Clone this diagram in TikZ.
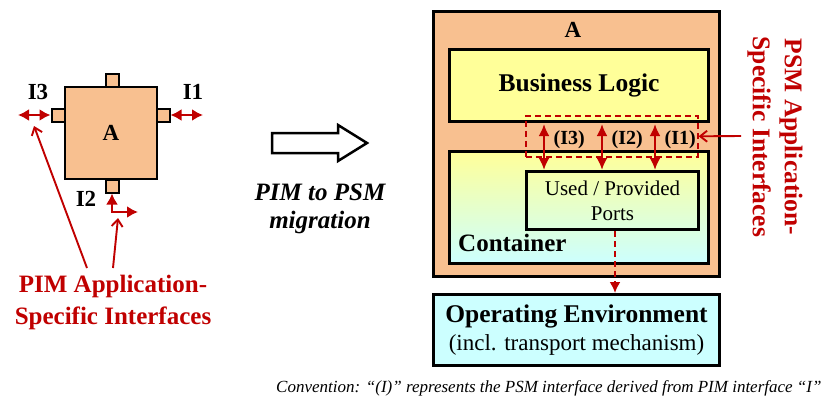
\documentclass[tikz,border=0pt]{standalone}
\usepackage{fontspec}
\setmainfont{Liberation Serif}
\usetikzlibrary{arrows.meta, positioning, calc}
\definecolor{peach}{RGB}{248,192,144}
\definecolor{lightyel}{RGB}{255,255,153}
\definecolor{lightcyan}{RGB}{204,255,255}
\definecolor{darkred}{RGB}{192,0,0}
\newcommand{\fsz}[2]{\fontsize{#1}{#2}\selectfont}

\begin{document}
\begin{tikzpicture}[x=1pt,y=-1pt,
    box/.style={draw,line width=3pt,inner sep=0pt},
    port/.style={draw,fill=peach,line width=2pt,minimum size=13pt,inner sep=0pt},
    iface/.style={darkred,line width=2.6pt,{Latex[length=11pt,width=12pt]}-{Latex[length=11pt,width=12pt]}},
    bigiface/.style={darkred,line width=2.6pt,{Latex[length=12pt,width=11pt]}-{Latex[length=12pt,width=11pt]}},
    ptr/.style={darkred,line width=1.9pt,-{Straight Barb[length=7pt,width=11pt]}},
    redtxt/.style={text=darkred,font=\bfseries\fsz{25}{32},align=center}]
    \useasboundingbox (0,0) rectangle (822,400);

    % PIM component
    \node[draw,fill=peach,line width=2.5pt,minimum size=92pt,font=\bfseries\fsz{23}{26}] (pima) at (111,133) {A};
    \node[port] (pt) at (112,80) {};
    \node[port] (pb) at (112,186) {};
    \node[port] (pl) at (58,115) {};
    \node[port] (pr) at (163,115) {};

    \coordinate (i1end) at (203,115);
    \coordinate (i3end) at (18,115);
    \coordinate (i2end) at (138,212);
    \draw[iface] (pr.east) -- (i1end);
    \draw[iface] (pl.west) -- (i3end);
    \draw[iface] (pb.south) |- (i2end);
    \node[font=\bfseries\fsz{23}{26}] (lbli1) at (193,92) {I1};
    \node[font=\bfseries\fsz{23}{26}] (lbli3) at (38,92) {I3};
    \node[font=\bfseries\fsz{23}{26}] (lbli2) at (86,199) {I2};

    \node[redtxt] (pimlbl) at (113,302) {PIM Application-\\Specific Interfaces};
    \coordinate (p3s) at (87,268);
    \coordinate (p3e) at (34,126);
    \coordinate (p2s) at (113,268);
    \coordinate (p2e) at (118,218);
    \draw[ptr] (p3s) -- (p3e);
    \draw[ptr] (p2s) -- (p2e);

    % migration arrow
    \draw[line width=2.5pt,line join=miter,fill=white] (272,133) -- (338,133) -- (338,125) -- (367,143)
      -- (338,161) -- (338,153) -- (272,153) -- cycle;
    \node[font=\bfseries\itshape\fsz{25}{28},align=center] (miglbl) at (320,209) {PIM to PSM\\migration};

    % PSM component
    \node[box,fill=peach,minimum width=286pt,minimum height=265pt,anchor=north west] (psma) at (432,10) {};
    \node[font=\bfseries\fsz{23}{26}] (psmalbl) at (573,30) {A};
    \node[box,fill=lightyel,minimum width=259pt,minimum height=72pt,anchor=north west,
      font=\bfseries\fsz{25.5}{28}] (bl) at (448,48) {Business Logic};
    \node[box,top color=lightyel,bottom color=lightcyan,minimum width=259pt,minimum height=112pt,
      anchor=north west] (cont) at (448,150) {};
    \node[font=\bfseries\fsz{25}{28},anchor=south west,inner sep=0pt] (contlbl) at (458,252) {Container};
    \node[box,minimum width=172pt,minimum height=58pt,anchor=north west,align=center,
      font=\fsz{21}{25}] (ports) at (525,170) {Used / Provided\\Ports};

    \node[draw=darkred,dash pattern=on 6pt off 4pt,line width=1.6pt,minimum width=172pt,
      minimum height=41pt,anchor=north west,inner sep=0pt] (ifbox) at (525,115) {};
    \foreach \x/\n in {544/3,602/2,655/1}{
      \coordinate (c\n) at (\x,0);
      \draw[bigiface,shorten <=1pt] (bl.south -| c\n) -- (ports.north -| c\n)
        node[pos=0.36,right=5pt,font=\bfseries\fsz{20}{24},text=black] {(I\n)};
    }

    \node[redtxt,font=\bfseries\fsz{25.5}{32},rotate=-90] (psmlbl) at (775,137) {PSM Application-\\Specific Interfaces};
    \coordinate (psmptr) at (741,136);
    \draw[ptr] (psmptr) -- (ifbox.east);

    % operating environment
    \node[box,fill=lightcyan,minimum width=286pt,minimum height=71pt,anchor=north west,
      align=center,font=\fsz{23}{28}] (oe) at (432,293)
      {\textbf{\fsz{25.5}{28}Operating Environment}\\(incl. transport mechanism)};
    \coordinate (c4) at (615,0);
    \draw[darkred,line width=2pt,dash pattern=on 6pt off 4pt,-{Latex[length=11pt,width=11pt]}]
      (ports.south -| c4) -- (oe.north -| c4);

    \node[anchor=west,font=\itshape\fsz{17}{20},inner sep=0pt] (conv) at (276,388)
      {Convention: “(I)” represents the PSM interface derived from PIM interface “I”};
\end{tikzpicture}
\end{document}
